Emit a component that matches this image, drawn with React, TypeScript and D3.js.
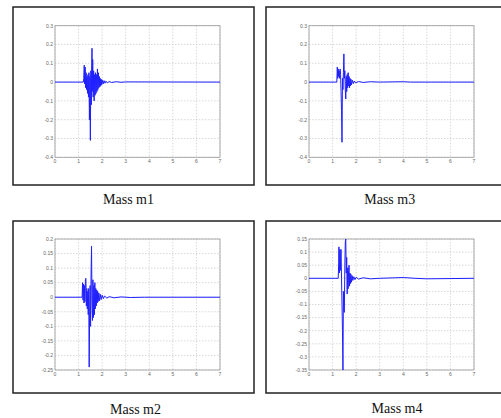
import React from "react";
import * as d3 from "d3";

const xTicks = [0, 1, 2, 3, 4, 5, 6, 7];
const yTicksA = [0.3, 0.2, 0.1, 0, -0.1, -0.2, -0.3, -0.4];
const yTicksM2 = [0.2, 0.15, 0.1, 0.05, 0, -0.05, -0.1, -0.15, -0.2, -0.25];
const yTicksM4 = [0.15, 0.1, 0.05, 0, -0.05, -0.1, -0.15, -0.2, -0.25, -0.3, -0.35];

const m1: [number, number][] = [
  [0, 0], [1.2, 0], [1.22, 0.02], [1.24, 0.09], [1.26, -0.01], [1.28, 0.08], [1.3, -0.03],
  [1.32, 0.05], [1.34, -0.04], [1.36, 0.03], [1.38, -0.06], [1.4, 0.04], [1.42, -0.08],
  [1.44, 0.05], [1.46, -0.2], [1.48, 0.03], [1.5, -0.31], [1.52, 0.06], [1.54, -0.12],
  [1.56, 0.1], [1.57, 0.18], [1.58, -0.05], [1.6, 0.12], [1.62, -0.08], [1.64, 0.06],
  [1.66, -0.1], [1.68, 0.04], [1.7, -0.07], [1.72, 0.05], [1.74, -0.06], [1.76, 0.04],
  [1.78, -0.05], [1.8, 0.07], [1.82, -0.04], [1.84, 0.05], [1.86, -0.03], [1.88, 0.03],
  [1.9, -0.025], [1.92, 0.02], [1.94, -0.02], [1.96, 0.015], [1.98, -0.015], [2.0, 0.012],
  [2.04, -0.01], [2.08, 0.008], [2.12, -0.006], [2.16, 0.005], [2.22, -0.004], [2.3, 0.003],
  [2.4, -0.002], [2.6, 0.002], [2.8, -0.001], [3.0, 0.001], [7, 0],
];

const m3: [number, number][] = [
  [0, 0], [1.18, 0], [1.2, 0.08], [1.22, 0.02], [1.24, 0.07], [1.26, 0.03], [1.28, 0.06],
  [1.3, 0.02], [1.32, 0.07], [1.34, 0.04], [1.36, -0.05], [1.38, -0.15], [1.4, -0.32],
  [1.42, 0.02], [1.44, -0.04], [1.46, 0.05], [1.48, 0.15], [1.5, 0.02], [1.52, 0.06],
  [1.54, -0.04], [1.56, -0.09], [1.58, 0.03], [1.6, -0.05], [1.62, 0.04], [1.64, -0.03],
  [1.66, 0.05], [1.68, -0.02], [1.7, 0.03], [1.72, -0.03], [1.74, 0.02], [1.76, -0.02],
  [1.78, 0.015], [1.8, -0.015], [1.84, 0.01], [1.88, -0.008], [1.92, 0.006], [1.98, -0.004],
  [2.1, 0.003], [2.3, -0.002], [2.6, 0.002], [3, 0], [4, 0.002], [4.3, 0], [7, 0],
];

const m2: [number, number][] = [
  [0, 0], [1.15, 0], [1.17, 0.05], [1.19, -0.01], [1.21, 0.045], [1.23, -0.02], [1.25, 0.04],
  [1.27, -0.015], [1.29, 0.06], [1.31, 0.065], [1.33, -0.03], [1.35, 0.03], [1.37, -0.04],
  [1.39, 0.02], [1.41, -0.06], [1.43, 0.03], [1.45, -0.24], [1.47, -0.05], [1.49, 0.04],
  [1.51, -0.1], [1.53, 0.08], [1.55, 0.175], [1.57, -0.02], [1.59, -0.08], [1.61, 0.06],
  [1.63, -0.07], [1.65, 0.04], [1.67, -0.06], [1.69, 0.05], [1.71, -0.04], [1.73, 0.03],
  [1.75, -0.03], [1.77, 0.025], [1.79, -0.02], [1.81, 0.02], [1.83, -0.015], [1.86, 0.015],
  [1.89, -0.012], [1.92, 0.01], [1.96, -0.008], [2.0, 0.007], [2.05, -0.005], [2.1, 0.004],
  [2.2, -0.003], [2.3, 0.002], [2.5, -0.002], [2.8, 0.001], [3.2, -0.001], [3.8, 0], [7, 0],
];

const m4: [number, number][] = [
  [0, 0], [1.24, 0], [1.26, 0.06], [1.27, 0.12], [1.29, 0.02], [1.31, 0.11], [1.33, 0.03],
  [1.35, 0.1], [1.36, 0.11], [1.38, 0.0], [1.4, -0.1], [1.42, -0.2], [1.44, -0.35],
  [1.46, -0.05], [1.48, -0.12], [1.5, -0.13], [1.52, 0.05], [1.54, 0.14], [1.56, 0.15],
  [1.58, 0.02], [1.6, 0.08], [1.62, -0.06], [1.64, 0.04], [1.66, -0.04], [1.68, 0.03],
  [1.7, 0.05], [1.72, -0.03], [1.74, 0.02], [1.76, -0.02], [1.78, 0.015], [1.8, -0.015],
  [1.83, 0.01], [1.86, -0.008], [1.9, 0.006], [1.95, -0.005], [2.0, 0.004], [2.1, -0.003],
  [2.3, 0.002], [2.6, -0.002], [3, 0], [4, 0.003], [4.5, 0], [5, -0.002], [7, 0],
];

type PanelProps = {
  frame: [number, number, number, number];
  plot: [number, number, number, number];
  yTicks: number[];
  data: [number, number][];
  caption: string;
  capX: number;
  capY: number;
};

function Panel({ frame, plot, yTicks, data, caption, capX, capY }: PanelProps) {
  const [px0, py0, px1, py1] = plot;
  const yMax = Math.max(...yTicks);
  const yMin = Math.min(...yTicks);
  const x = d3.scaleLinear().domain([0, 7]).range([px0, px1]);
  const y = d3.scaleLinear().domain([yMin, yMax]).range([py1, py0]);
  const line = d3.line<[number, number]>().x((d) => x(d[0])).y((d) => y(d[1]));
  const fmt = (v: number) => (Math.abs(v) < 1e-9 ? "0" : String(+v.toFixed(2)));
  return (
    <g>
      <rect x={frame[0]} y={frame[1]} width={frame[2] - frame[0]} height={frame[3] - frame[1]}
        fill="white" stroke="#222" strokeWidth={1.5} />
      {xTicks.map((t) => (
        <line key={"gx" + t} x1={x(t)} x2={x(t)} y1={py0} y2={py1} stroke="#c8c8c8" strokeWidth={0.7} strokeDasharray="1.5,1.5" />
      ))}
      {yTicks.map((t) => (
        <line key={"gy" + t} x1={px0} x2={px1} y1={y(t)} y2={y(t)} stroke="#c8c8c8" strokeWidth={0.7} strokeDasharray="1.5,1.5" />
      ))}
      <rect x={px0} y={py0} width={px1 - px0} height={py1 - py0} fill="none" stroke="#999" strokeWidth={0.8} />
      {xTicks.map((t) => (
        <text key={"tx" + t} x={x(t)} y={py1 + 6} fontSize={5} fill="#666" textAnchor="middle" fontFamily="Liberation Sans, Arial">{t}</text>
      ))}
      {yTicks.map((t) => (
        <text key={"ty" + t} x={px0 - 2} y={y(t) + 1.8} fontSize={5} fill="#666" textAnchor="end" fontFamily="Liberation Sans, Arial">{fmt(t)}</text>
      ))}
      <path d={line(data) || ""} fill="none" stroke="#1f1fff" strokeWidth={1} strokeLinejoin="round" />
      <text x={capX} y={capY} fontSize={14} fill="#111" textAnchor="middle" fontFamily="Liberation Serif, Times New Roman, serif">{caption}</text>
    </g>
  );
}

export default function App() {
  return (
    <svg width={501} height={418} style={{ position: "absolute", left: 0, top: 0, background: "white" }}>
      <rect x={0} y={0} width={501} height={418} fill="white" />
      <Panel frame={[13, 7, 254, 185]} plot={[55, 25.7, 220, 157.3]} yTicks={yTicksA} data={m1} caption="Mass m1" capX={128.5} capY={204} />
      <Panel frame={[266, 7, 504, 185]} plot={[309, 25.7, 474, 157.3]} yTicks={yTicksA} data={m3} caption="Mass m3" capX={389.7} capY={204} />
      <Panel frame={[13, 221, 254, 393]} plot={[55, 239, 220, 370]} yTicks={yTicksM2} data={m2} caption="Mass m2" capX={135.5} capY={414} />
      <Panel frame={[266, 221, 504, 393]} plot={[309, 239, 474, 370]} yTicks={yTicksM4} data={m4} caption="Mass m4" capX={397} capY={413} />
    </svg>
  );
}
